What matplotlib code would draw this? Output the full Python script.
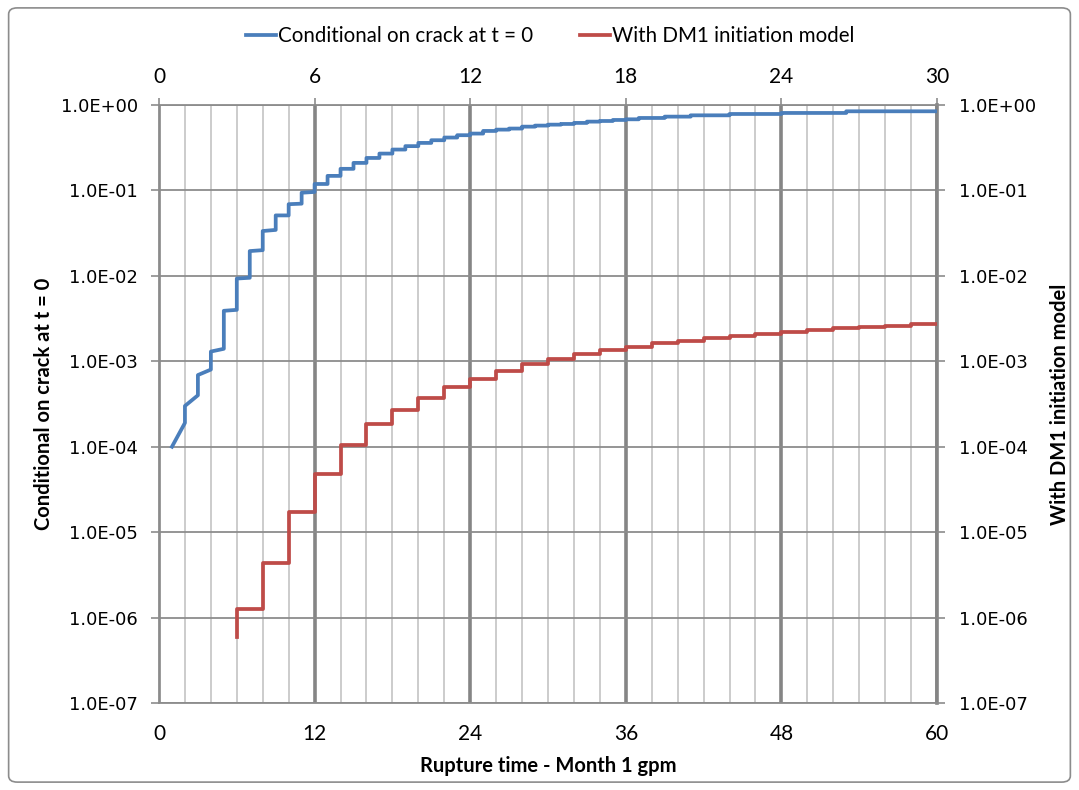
import matplotlib
matplotlib.use("Agg")
import matplotlib.pyplot as plt
from matplotlib.patches import FancyBboxPatch
from matplotlib.ticker import FixedLocator, FuncFormatter, NullLocator
import numpy as np

# blue series: early part read as points, later part as monthly steps
blue_early_month = [1, 2, 2, 3, 3, 4, 4, 5, 5, 6, 6, 7, 7, 8, 8, 9, 9, 10, 10, 11, 11, 12]
blue_early_prob = [1.0e-4, 1.9e-4, 3.0e-4, 4.0e-4, 6.9e-4, 8.0e-4, 1.3e-3, 1.4e-3, 3.9e-3, 4.0e-3,
                   9.3e-3, 9.5e-3, 1.95e-2, 2.0e-2, 3.35e-2, 3.45e-2, 5.1e-2, 5.1e-2, 6.9e-2, 7.0e-2,
                   9.4e-2, 9.6e-2]
blue_step_month = [12, 13, 14, 15, 16, 17, 18, 19, 20, 21, 22, 23, 24, 25, 26, 27, 28, 29, 30,
                   31, 32, 33, 34, 35, 36, 37, 39, 41, 44, 48, 53]
blue_step_prob = [0.119, 0.148, 0.179, 0.210, 0.240, 0.270, 0.301, 0.33, 0.36, 0.387, 0.416,
                  0.443, 0.463, 0.497, 0.515, 0.53, 0.558, 0.574, 0.589, 0.60, 0.617, 0.639,
                  0.65, 0.668, 0.68, 0.705, 0.731, 0.757, 0.785, 0.807, 0.844]

# red series: steps every two months
red_start_prob = 5.9e-7
red_step_month = [6, 8, 10, 12, 14, 16, 18, 20, 22, 24, 26, 28, 30, 32, 34, 36, 38, 40, 42,
                  44, 46, 48, 50, 52, 54, 56, 58]
red_step_prob = [1.25e-6, 4.36e-6, 1.74e-5, 4.8e-5, 1.06e-4, 1.83e-4, 2.72e-4, 3.74e-4, 4.99e-4,
                 6.2e-4, 7.6e-4, 9.3e-4, 1.06e-3, 1.23e-3, 1.35e-3, 1.47e-3, 1.64e-3, 1.73e-3,
                 1.87e-3, 1.99e-3, 2.11e-3, 2.19e-3, 2.34e-3, 2.42e-3, 2.53e-3, 2.61e-3, 2.7e-3]
end_month = 60

y_ticks = [1e-7, 1e-6, 1e-5, 1e-4, 1e-3, 1e-2, 1e-1, 1e0]

BLUE = '#4a7ebb'
RED = '#be4b48'
NARROW = 'Lato'


def step_xy(months, probs, x0, y0, x_end):
  xs, ys = [x0], [y0]
  prev = y0
  for m, p in zip(months, probs):
    xs += [m, m]
    ys += [prev, p]
    prev = p
  xs.append(x_end)
  ys.append(prev)
  return xs, ys


bx, by = step_xy(blue_step_month[1:], blue_step_prob[1:], 12, blue_step_prob[0], end_month)
blue_x = blue_early_month + bx
blue_y = blue_early_prob + by
red_x, red_y = step_xy(red_step_month, red_step_prob, red_step_month[0], red_start_prob, end_month)

fig = plt.figure(figsize=(10.79, 7.90), dpi=100)
ax = fig.add_axes([159/1079, 1-703/790, (937-159)/1079, (703-105)/790])

ax.set_yscale('log')
ax.set_ylim(1e-7, 1e0)
ax.set_xlim(0, 60)

l1, = ax.plot(blue_x, blue_y, color=BLUE, lw=2.7, zorder=5, label='Conditional on crack at t = 0')
l2, = ax.plot(red_x, red_y, color=RED, lw=2.7, zorder=5, label='With DM1 initiation model')

# grid
ax.xaxis.set_major_locator(FixedLocator(np.arange(0, 61, 12)))
ax.xaxis.set_minor_locator(FixedLocator(np.arange(0, 61, 2)))
ax.yaxis.set_major_locator(FixedLocator(y_ticks))
ax.yaxis.set_minor_locator(NullLocator())
ax.grid(True, which='minor', axis='x', color='#c8c8c8', lw=1.3)
ax.grid(True, which='major', axis='x', color='#858585', lw=2.6)
ax.grid(True, which='major', axis='y', color='#8c8c8c', lw=1.3)
ax.set_axisbelow(True)

ax.tick_params(axis='x', which='both', length=0, pad=15, labelsize=15)
for t in ax.get_xticklabels():
  t.set_family(NARROW)
ax.tick_params(axis='y', which='major', length=6, width=1.2, color='#8c8c8c', pad=9, labelsize=13)
ax.yaxis.set_major_formatter(FuncFormatter(lambda v, p: '%.1E' % v))

for s in ['left', 'top', 'bottom']:
  ax.spines[s].set_color('#8c8c8c')
  ax.spines[s].set_linewidth(1.3)
ax.spines['right'].set_color('#858585')
ax.spines['right'].set_linewidth(2.6)

# right axis
ax2 = ax.twinx()
ax2.set_yscale('log')
ax2.set_ylim(1e-7, 1e0)
ax2.yaxis.set_major_locator(FixedLocator(y_ticks))
ax2.yaxis.set_minor_locator(NullLocator())
ax2.yaxis.set_major_formatter(FuncFormatter(lambda v, p: '%.1E' % v))
ax2.tick_params(axis='y', length=6, width=1.2, color='#8c8c8c', pad=10, labelsize=13)
for s in ax2.spines.values():
  s.set_visible(False)

# top axis in years
top = ax.secondary_xaxis('top', functions=(lambda x: x / 2, lambda x: x * 2))
top.xaxis.set_major_locator(FixedLocator(np.arange(0, 31, 6)))
top.tick_params(axis='x', length=5, width=1.2, color='#8c8c8c', pad=8, labelsize=15)
for t in top.get_xticklabels():
  t.set_family(NARROW)
top.spines['top'].set_visible(False)

ax.set_xlabel('Rupture time - Month 1 gpm', fontsize=14.5, fontweight='bold', family=NARROW, labelpad=9)
ax.set_ylabel('Conditional on crack at t = 0', fontsize=14.5, fontweight='bold', family=NARROW, labelpad=5)
ax2.set_ylabel('With DM1 initiation model', fontsize=14.5, fontweight='bold', family=NARROW, labelpad=10)

fig.legend(handles=[l1, l2], loc='center', bbox_to_anchor=(550/1079, 1-36/790), ncol=2,
           frameon=False, prop={'family': NARROW, 'size': 14.8}, handlelength=1.45,
           handletextpad=0.1, columnspacing=2.3)

fig.patches.append(FancyBboxPatch((0.008, 0.01), 0.984, 0.98, boxstyle='round,pad=0,rounding_size=0.008',
                                  transform=fig.transFigure, fill=False, ec='#8c8c8c', lw=1.2))

fig.savefig('out.png', dpi=100)
